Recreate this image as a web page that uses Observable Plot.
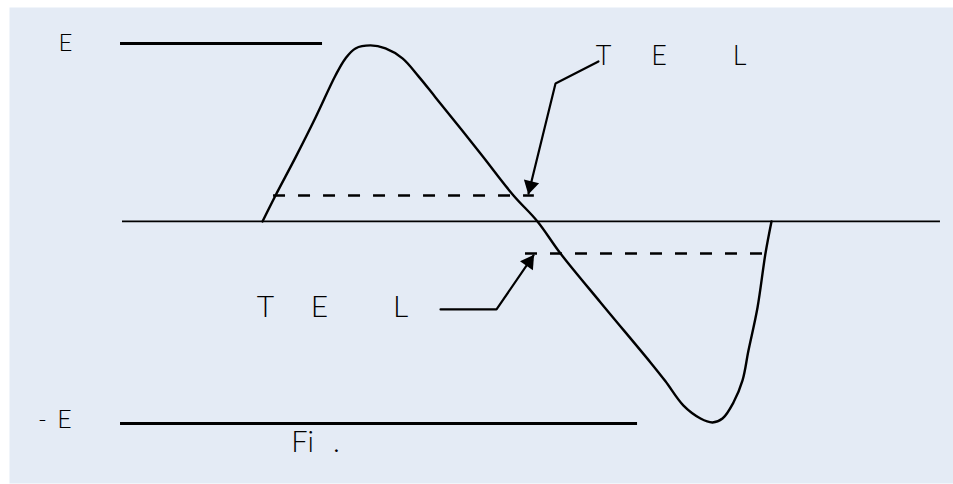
<!DOCTYPE html>
<html>
<head>
<meta charset="utf-8">
<script src="https://cdn.jsdelivr.net/npm/d3@7"></script>
<script src="https://cdn.jsdelivr.net/npm/@observablehq/plot@0.6"></script>
<style>
  html, body { margin: 0; padding: 0; background: #ffffff; }
  #chart svg { display: block; }
</style>
</head>
<body>
<div id="chart"></div>
<script>
// ---- data (x: time units 0..100, y: voltage in units of E) ----
const curveX = [26.80, 28.18, 30.30, 32.42, 34.53, 35.59, 36.65, 38.24, 39.83, 41.63, 43.33, 45.13, 49.89, 53.39, 55.93, 58.37, 62.61, 67.90, 69.49, 71.40, 73.20, 74.47, 75.53, 76.69, 77.65, 78.28, 79.24, 80.08, 80.72];
const curveY = [0, 0.146, 0.360, 0.584, 0.820, 0.916, 0.972, 0.989, 0.972, 0.916, 0.815, 0.697, 0.382, 0.146, 0, -0.180, -0.455, -0.792, -0.898, -1.035, -1.107, -1.129, -1.107, -1.017, -0.893, -0.725, -0.483, -0.180, 0];

// solid level lines: +E, zero axis, -E
const levelY  = [1, 0, -1.135];
const levelX1 = [11.76, 11.97, 11.76];
const levelX2 = [33.16, 98.62, 66.53];
const levelW  = [3, 1.8, 3];

// dashed threshold lines
const dashY  = [0.146, -0.180];
const dashX1 = [27.97, 54.66];
const dashX2 = [55.60, 79.87];

// leader arrows (polylines ending at the tip)
const arrowUpperX = [62.39, 57.84, 54.98];
const arrowUpperY = [0.899, 0.775, 0.157];
const arrowLowerX = [45.66, 51.59, 55.51];
const arrowLowerY = [-0.494, -0.494, -0.191];

// level and figure labels (each glyph group placed separately)
const labelText = ["E", "-", "E", "Fi", "."];
const labelX    = [5.93, 3.49, 5.83, 31.04, 34.64];
const labelY    = [1.0, -1.118, -1.118, -1.242, -1.242];
const labelSize = [24, 24, 25, 29, 29];

// annotation letters
const telLetters = ["T", "E", "L"];
const telUpperX = [62.92, 68.80, 77.33];
const telUpperY = 0.927;
const telLowerX = [27.12, 32.84, 41.42];
const telLowerY = -0.483;

// ---- build tables ----
const curve = curveX.map((x, i) => ({x, y: curveY[i]}));
const levels = levelY.map((y, i) => ({y, x1: levelX1[i], x2: levelX2[i], w: levelW[i]}));
const dashes = dashY.map((y, i) => ({y, x1: dashX1[i], x2: dashX2[i]}));
const upper = arrowUpperX.map((x, i) => ({x, y: arrowUpperY[i]}));
const lower = arrowLowerX.map((x, i) => ({x, y: arrowLowerY[i]}));
const labels = labelText.map((t, i) => ({t, x: labelX[i], y: labelY[i], s: labelSize[i]}));
const tel = [
  ...telLetters.map((t, i) => ({t, x: telUpperX[i], y: telUpperY, s: 27})),
  ...telLetters.map((t, i) => ({t, x: telLowerX[i], y: telLowerY, s: 30}))
];

const W = 953, H = 484;
const mL = 9, mT = 7, mR = 0, mB = 1;
const xDomain = [0, 100];
const yDomain = [-1.472, 1.202];
const sx = d3.scaleLinear(xDomain, [mL, W - mR]);
const sy = d3.scaleLinear(yDomain, [H - mB, mT]);

// arrowhead placement derived from the last segment of each leader
function head(pts, back) {
  const a = pts[pts.length - 2], b = pts[pts.length - 1];
  const dx = sx(b.x) - sx(a.x), dy = sy(b.y) - sy(a.y);
  const len = Math.hypot(dx, dy);
  const t = back / len;
  return {
    x: b.x + (a.x - b.x) * t,
    y: b.y + (a.y - b.y) * t,
    rot: Math.atan2(dx, -dy) * 180 / Math.PI
  };
}
const heads = [head(upper, 8), head(lower, 8)];

const font = "Lato, 'Open Sans', 'Liberation Sans', sans-serif";

const chart = Plot.plot({
  width: W,
  height: H,
  marginLeft: mL, marginTop: mT, marginRight: mR, marginBottom: mB,
  x: {domain: xDomain, axis: null},
  y: {domain: yDomain, axis: null},
  style: {background: "#ffffff", fontFamily: font},
  marks: [
    Plot.frame({fill: "#e4ebf5", stroke: "none"}),
    Plot.ruleY(levels, {y: "y", x1: "x1", x2: "x2", stroke: "#000", strokeWidth: d => d.w}),
    Plot.ruleY(dashes, {y: "y", x1: "x1", x2: "x2", stroke: "#000", strokeWidth: 2.6, strokeDasharray: "12,13"}),
    Plot.line(curve, {x: "x", y: "y", curve: "catmull-rom", stroke: "#000", strokeWidth: 2.4}),
    Plot.line(upper, {x: "x", y: "y", stroke: "#000", strokeWidth: 2.2, strokeLinejoin: "miter"}),
    Plot.line(lower, {x: "x", y: "y", stroke: "#000", strokeWidth: 2.2, strokeLinejoin: "miter"}),
    Plot.dot(heads, {x: "x", y: "y", symbol: "triangle", r: 5.8, fill: "#000", stroke: "none", rotate: "rot"}),
    Plot.text(labels, {x: "x", y: "y", text: "t", textAnchor: "middle", fontSize: "s", fill: "#000", fontWeight: 300}),
    Plot.text(tel, {x: "x", y: "y", text: "t", textAnchor: "middle", fontSize: "s", fill: "#000", fontWeight: 300})
  ]
});
document.getElementById("chart").appendChild(chart);
</script>
</body>
</html>
